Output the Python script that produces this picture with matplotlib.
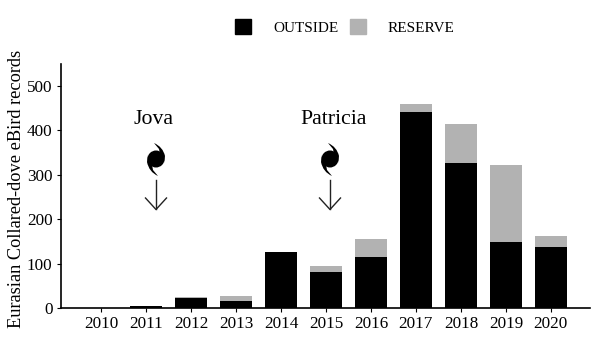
import numpy as np
import matplotlib.pyplot as plt
from matplotlib.patches import Circle, PathPatch, Patch
from matplotlib.path import Path

years = [2010, 2011, 2012, 2013, 2014, 2015, 2016, 2017, 2018, 2019, 2020]
outside = np.array([0, 4, 23, 15, 125, 80, 115, 442, 327, 148, 138])
reserve = np.array([0, 0, 1, 11, 1, 15, 41, 18, 88, 174, 23])
storms = ["Jova", "Patricia"]
storm_px = [156, 330]

plt.rcParams['font.family'] = ['Liberation Serif', 'DejaVu Serif']

fig = plt.figure(figsize=(6, 3.55), dpi=100)
ax = fig.add_axes([61 / 600, 47 / 355, 529 / 600, 244 / 355])

ax.bar(years, outside, width=0.7, color="black", label="OUTSIDE")
ax.bar(years, reserve, width=0.7, bottom=outside, color="#b2b2b2", label="RESERVE")

ax.set_xlim(2009.11, 2020.87)
ax.set_ylim(0, 549)
ax.set_xticks(years)
ax.set_yticks([0, 100, 200, 300, 400, 500])
ax.tick_params(labelsize=12.3, length=3, width=0.8, pad=3, colors="black")
ax.set_ylabel("Eurasian Collared-dove eBird records", fontsize=13.2, labelpad=1.5, y=0.49)
ax.spines["top"].set_visible(False)
ax.spines["right"].set_visible(False)
ax.spines["left"].set_linewidth(1.2)
ax.spines["bottom"].set_linewidth(1.2)

handles = [Patch(color="black"), Patch(color="#b2b2b2")]
fig.legend(handles, ["OUTSIDE", "RESERVE"], ncol=2, frameon=False, fontsize=11,
           loc="center", bbox_to_anchor=(345 / 600, 1 - 27 / 355),
           handlelength=1.05, handleheight=1.05, handletextpad=1.45,
           columnspacing=0.73, borderpad=0)

# overlay in pixels for the hurricane symbols
ov = fig.add_axes([0, 0, 1, 1])
ov.set_xlim(0, 600)
ov.set_ylim(355, 0)
ov.axis("off")

for name, cx in zip(storms, storm_px):
    ov.text(cx + (-3 if name == "Jova" else 4), 120, name, fontsize=15.7, ha="center", va="center")
    ov.add_patch(Circle((cx, 159), 8.5, color="black", lw=0))
    top = Path([(cx - 2, 143), (cx + 7, 147), (cx + 9, 156), (cx + 8, 163),
                (cx + 4, 156), (cx + 3, 149), (cx - 2, 143)],
               [1, 3, 3, 2, 3, 3, 2])
    bot = Path([(cx + 2, 176), (cx - 7, 172), (cx - 9, 162), (cx - 8, 155),
                (cx - 4, 163), (cx - 3, 170), (cx + 2, 176)],
               [1, 3, 3, 2, 3, 3, 2])
    ov.add_patch(PathPatch(top, color="black", lw=0))
    ov.add_patch(PathPatch(bot, color="black", lw=0))
    ov.plot([cx, cx], [180, 209], color="#222222", lw=1)
    ov.plot([cx - 10.5, cx, cx + 10.5], [198, 209.5, 198], color="#222222", lw=1)

fig.savefig("out.png", dpi=100)
